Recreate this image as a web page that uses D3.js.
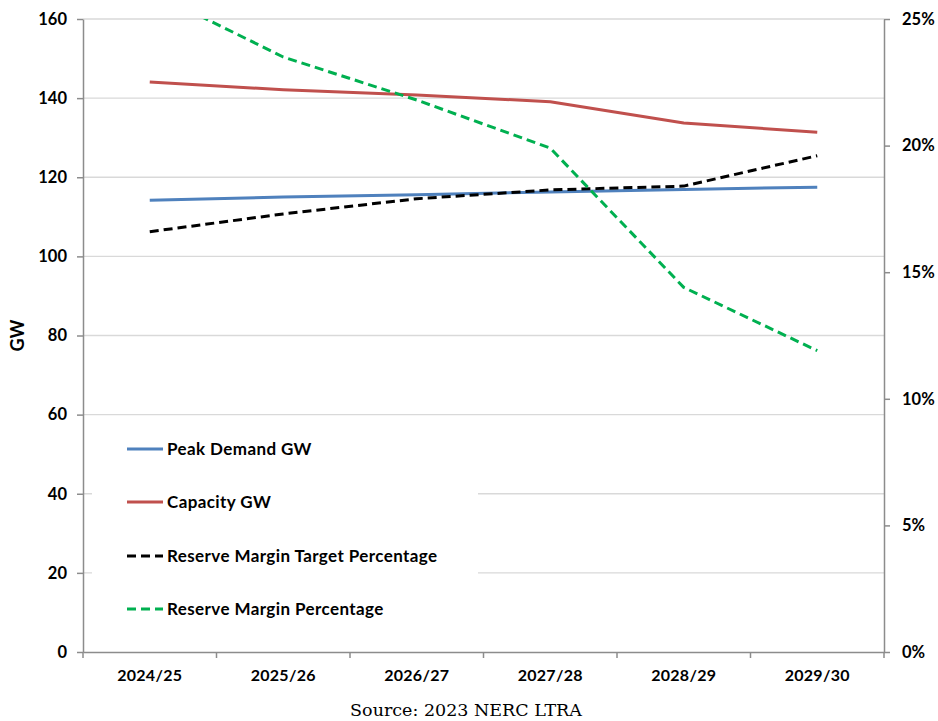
<!DOCTYPE html>
<html>
<head>
<meta charset="utf-8">
<script src="https://cdn.jsdelivr.net/npm/d3@7"></script>
<style>
  html, body { margin: 0; padding: 0; background: #fff; }
  svg { display: block; }
</style>
</head>
<body>
<svg id="chart" width="938" height="721"></svg>
<script>
const categories = ["2024/25", "2025/26", "2026/27", "2027/28", "2028/29", "2029/30"];
const peakDemand = [114.2, 115.0, 115.6, 116.3, 116.9, 117.5];
const capacity = [144.1, 142.1, 140.8, 139.1, 133.7, 131.4];
const reserveTarget = [16.6, 17.3, 17.9, 18.25, 18.4, 19.6];
const reserveMargin = [26.1, 23.5, 21.8, 19.9, 14.4, 11.9];
const leftTicks = [0, 20, 40, 60, 80, 100, 120, 140, 160];
const rightTicks = [0, 5, 10, 15, 20, 25];
const legendLabels = ["Peak Demand GW", "Capacity GW", "Reserve Margin Target Percentage", "Reserve Margin Percentage"];

const svg = d3.select("#chart");
const L = 83, R = 884, T = 19, B = 652;
const font = "Lato, 'Open Sans', sans-serif";

const x = d3.scaleBand().domain(categories).range([L, R]).padding(0);
const xc = d => x(d) + x.bandwidth() / 2;
const yL = d3.scaleLinear().domain([0, 160]).range([B, T]);
const yR = d3.scaleLinear().domain([0, 25]).range([B, T]);

// gridlines
svg.append("g").selectAll("line").data(leftTicks.filter(v => v > 0)).join("line")
  .attr("x1", L).attr("x2", R).attr("y1", d => yL(d)).attr("y2", d => yL(d))
  .attr("stroke", "#d9d9d9").attr("stroke-width", 1.3);

// clip path
svg.append("clipPath").attr("id", "plotclip").append("rect")
  .attr("x", L).attr("y", T).attr("width", R - L).attr("height", B - T);

// left axis
const axL = svg.append("g").attr("transform", `translate(${L},0)`)
  .call(d3.axisLeft(yL).tickValues(leftTicks).tickSize(6).tickPadding(10).tickSizeOuter(0));
axL.select(".domain").attr("stroke", "#8c8c8c").attr("stroke-width", 1.5);
axL.selectAll(".tick line").attr("stroke", "#8c8c8c").attr("stroke-width", 1.5);
axL.selectAll("text").attr("font-family", font).attr("font-weight", "bold")
  .attr("font-size", 16.5).attr("fill", "#000");

// right axis
const axR = svg.append("g").attr("transform", `translate(${R},0)`)
  .call(d3.axisRight(yR).tickValues(rightTicks).tickFormat(d => d + "%").tickSize(6).tickPadding(12).tickSizeOuter(0));
axR.select(".domain").attr("stroke", "#8c8c8c").attr("stroke-width", 1.5);
axR.selectAll(".tick line").attr("stroke", "#8c8c8c").attr("stroke-width", 1.5);
axR.selectAll("text").attr("font-family", font).attr("font-weight", "bold")
  .attr("font-size", 16.5).attr("fill", "#000");

// bottom axis
const axB = svg.append("g").attr("transform", `translate(0,${B})`)
  .call(d3.axisBottom(x).tickSize(0).tickPadding(18));
axB.select(".domain").attr("stroke", "#8c8c8c").attr("stroke-width", 1.5);
axB.selectAll("text").attr("font-family", font).attr("font-weight", "bold")
  .attr("font-size", 16).attr("letter-spacing", 0.3).attr("fill", "#000");
const bounds = categories.map(c => x(c)).concat([R]);
svg.append("g").selectAll("line").data(bounds).join("line")
  .attr("x1", d => d).attr("x2", d => d).attr("y1", B).attr("y2", B + 6)
  .attr("stroke", "#8c8c8c").attr("stroke-width", 1.5);

// y title
svg.append("text").attr("transform", `translate(24,${(T + B) / 2}) rotate(-90)`)
  .attr("text-anchor", "middle").attr("font-family", font).attr("font-weight", "bold")
  .attr("font-size", 18).text("GW");

// series
const series = [
  { vals: peakDemand, y: yL, color: "#4f81bd", dash: null },
  { vals: capacity, y: yL, color: "#c0504d", dash: null },
  { vals: reserveTarget, y: yR, color: "#000000", dash: "9,5" },
  { vals: reserveMargin, y: yR, color: "#00b050", dash: "9,5" }
];

// legend background
const lg = svg.append("g");
lg.append("rect").attr("x", 92).attr("y", 422).attr("width", 386).attr("height", 215).attr("fill", "#fff");

const gSeries = svg.append("g").attr("clip-path", "url(#plotclip)");
series.forEach(s => {
  const line = d3.line().x((d, i) => xc(categories[i])).y(d => s.y(d));
  gSeries.append("path").datum(s.vals).attr("d", line)
    .attr("fill", "none").attr("stroke", s.color).attr("stroke-width", 3)
    .attr("stroke-dasharray", s.dash).attr("stroke-linejoin", "round");
});

// legend
const legY = [449, 502, 556, 609];
series.forEach((s, i) => {
  lg.append("line").attr("x1", 127).attr("x2", 163).attr("y1", legY[i]).attr("y2", legY[i])
    .attr("stroke", s.color).attr("stroke-width", 3).attr("stroke-dasharray", s.dash);
  lg.append("text").attr("x", 167).attr("y", legY[i]).attr("dy", "0.35em")
    .attr("font-family", font).attr("font-weight", "bold").attr("font-size", 17)
    .attr("letter-spacing", 0.4)
    .text(legendLabels[i]);
});

// source
svg.append("text").attr("x", 466).attr("y", 716).attr("text-anchor", "middle")
  .attr("font-family", "'DejaVu Serif', 'Liberation Serif', serif").attr("font-size", 17.5)
  .text("Source: 2023 NERC LTRA");
</script>
</body>
</html>
